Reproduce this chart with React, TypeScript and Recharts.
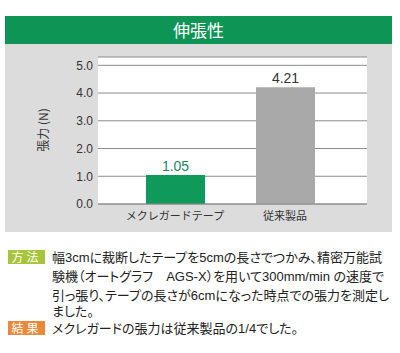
import React from "react";
import { Bar, BarChart, CartesianGrid, Cell, LabelList, XAxis, YAxis } from "recharts";

const categories = ["メクレガードテープ", "従来製品"];
const tension = [1.05, 4.21];
const barColors = ["#0f9a5c", "#a9a9a9"];
const labelColors = ["#178a5c", "#333333"];
const yTicks = [0, 1, 2, 3, 4, 5];

const methodLines = [
  "幅3cmに裁断したテープを5cmの長さでつかみ、精密万能試",
  "験機（オートグラフ　AGS-X）を用いて300mm/min の速度で",
  "引っ張り、テープの長さが6cmになった時点での張力を測定し",
  "ました。",
];
const resultLine = "メクレガードの張力は従来製品の1/4でした。";

const data = categories.map((name, i) => ({ name, value: tension[i] }));

const font = "'Liberation Sans', 'Noto Sans CJK JP', sans-serif";
const jpFont = "'Noto Sans CJK JP', sans-serif";

function YLabel() {
  return (
    <text x={40} y={86} transform="rotate(-90 40 86)" textAnchor="middle" dominantBaseline="middle" fontSize={12} fill="#333" fontFamily={jpFont}>
      張力 (N)
    </text>
  );
}

function Badge({ text, color, top }: { text: string; color: string; top: number }) {
  return (
    <div style={{ position: "absolute", left: 8, top, width: 37, height: 14, background: color, color: "#fff", fontSize: 12, lineHeight: "14px", textAlign: "center", letterSpacing: 3, fontFamily: jpFont }}>
      {text}
    </div>
  );
}

const textStyle: React.CSSProperties = {
  position: "absolute",
  left: 52,
  fontSize: 13,
  lineHeight: "15px",
  color: "#222",
  whiteSpace: "nowrap",
  fontFeatureSettings: "'palt'",
  fontFamily: font,
};

export default function App() {
  const lineTops = [249.5, 269, 288, 304];
  return (
    <div style={{ position: "absolute", left: 0, top: 0, width: 400, height: 353, background: "#fff", fontFamily: jpFont }}>
      <div style={{ position: "absolute", left: 5, top: 16, width: 387, height: 28, background: "#0e9454", color: "#fff", fontSize: 17, lineHeight: "28px", textAlign: "center" }}>
        伸張性
      </div>
      <div style={{ position: "absolute", left: 5, top: 44, width: 387, height: 188, background: "#dcdcdc" }}>
        <BarChart width={387} height={188} data={data} margin={{ top: 13, right: 25, bottom: 0, left: 0 }}>
          <CartesianGrid vertical={false} stroke="#8c8c8c" fill="#ffffff" />
          <XAxis
            dataKey="name"
            height={28}
            tickLine={false}
            axisLine={{ stroke: "#8c8c8c" }}
            tickSize={0}
            tickMargin={8}
            padding={{ left: 22, right: 27 }}
            tick={{ fontSize: 11, fill: "#333", fontFamily: jpFont }}
          />
          <YAxis
            width={93}
            domain={[0, 5.3]}
            ticks={yTicks}
            tickFormatter={(v: number) => v.toFixed(1)}
            axisLine={false}
            tickLine={false}
            tickSize={0}
            tickMargin={5}
            tick={{ fontSize: 12, fill: "#333", fontFamily: font }}
          />
          <Bar dataKey="value" barSize={59} isAnimationActive={false}>
            {data.map((d, i) => (
              <Cell key={d.name} fill={barColors[i]} />
            ))}
            <LabelList
              dataKey="value"
              position="top"
              content={(props: any) => {
                const { x, y, width, value, index } = props;
                return (
                  <text x={x + width / 2} y={y - 4} textAnchor="middle" fontSize={14} fill={labelColors[index]} fontFamily={font}>
                    {Number(value).toFixed(2)}
                  </text>
                );
              }}
            />
          </Bar>
          <YLabel />
        </BarChart>
      </div>
      <Badge text="方法" color="#a6c43c" top={250} />
      {methodLines.map((t, i) => (
        <div key={i} style={{ ...textStyle, top: lineTops[i] }}>
          {t}
        </div>
      ))}
      <Badge text="結果" color="#e8893b" top={321} />
      <div style={{ ...textStyle, top: 320.5 }}>{resultLine}</div>
    </div>
  );
}
